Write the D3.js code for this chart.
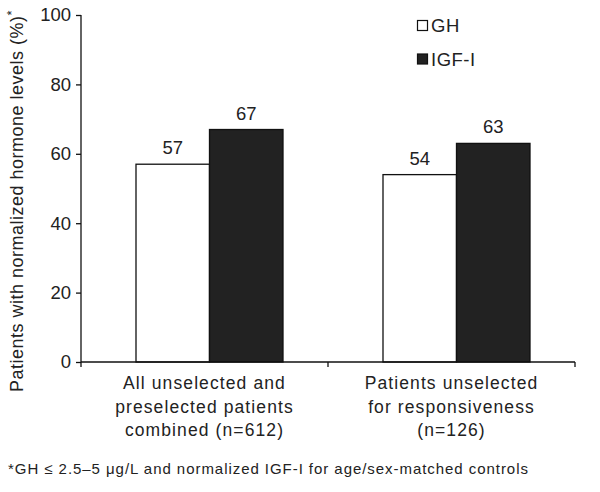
<!DOCTYPE html>
<html><head><meta charset="utf-8">
<script src="https://cdn.jsdelivr.net/npm/d3@7"></script>
<style>body{margin:0;background:#fff}svg{display:block;font-family:"Liberation Sans",Arial,sans-serif}</style>
</head><body><svg id="c" width="600" height="492"></svg>
<script>
const categories = [["All unselected and","preselected patients","combined (n=612)"],["Patients unselected","for responsiveness","(n=126)"]];
const series = ["GH","IGF-I"];
const ghValues = [57, 54];
const igfValues = [67, 63];
const yTicks = [0,20,40,60,80,100];
const colors = {"GH":"#ffffff","IGF-I":"#222222"};

const svg = d3.select("#c");
const x0 = d3.scaleBand().domain([0,1]).range([81,575]).padding(0);
const x1 = d3.scaleBand().domain(series).range([55,202]).padding(0);
const y = d3.scaleLinear().domain([0,100]).range([362,15]);

const data = categories.map((c,i)=>({i, vals:[{s:"GH",v:ghValues[i]},{s:"IGF-I",v:igfValues[i]}]}));

// bars
const g = svg.selectAll("g.cat").data(data).enter().append("g").attr("class","cat")
  .attr("transform",d=>`translate(${x0(d.i)},0)`);
g.selectAll("rect").data(d=>d.vals).enter().append("rect")
  .attr("x",d=>x1(d.s)).attr("width",x1.bandwidth())
  .attr("y",d=>y(d.v)).attr("height",d=>y(0)-y(d.v))
  .attr("fill",d=>colors[d.s]).attr("stroke","#111").attr("stroke-width",1.3);
g.selectAll("text.val").data(d=>d.vals).enter().append("text").attr("class","val")
  .attr("x",d=>x1(d.s)+x1.bandwidth()/2).attr("y",d=>y(d.v)-10)
  .attr("text-anchor","middle").attr("font-size",18.5).attr("fill","#222").text(d=>d.v);

// y axis
const ya = svg.append("g").attr("transform","translate(81,0)")
  .call(d3.axisLeft(y).tickValues(yTicks).tickSize(5).tickPadding(5));
ya.selectAll("text").attr("font-size",18.5).attr("fill","#222").attr("font-family","Liberation Sans, Arial, sans-serif");
ya.selectAll("line,path").attr("stroke","#111").attr("stroke-width",1.3);
ya.select("path").attr("d","M0,362V15");

// x axis
const xa = svg.append("g").attr("transform","translate(0,362)");
xa.append("line").attr("x1",81).attr("x2",575).attr("stroke","#111").attr("stroke-width",1.3);
[0,1,2].forEach(k=>{
  const xx = k<2 ? x0(k) : x0(1)+x0.bandwidth();
  xa.append("line").attr("x1",xx).attr("x2",xx).attr("y1",0).attr("y2",5).attr("stroke","#111").attr("stroke-width",1.3);
});
categories.forEach((lines,i)=>{
  const t = svg.append("text").attr("text-anchor","middle").attr("font-size",17.5).attr("letter-spacing",1.1).attr("fill","#222");
  lines.forEach((l,j)=>t.append("tspan").attr("x",x0(i)+x0.bandwidth()/2).attr("y",389+j*23.5).text(l));
});

// y title
svg.append("text").attr("transform","translate(23,201) rotate(-90)").attr("text-anchor","middle")
  .attr("font-size",18).attr("letter-spacing",0.5).attr("fill","#222")
  .text("Patients with normalized hormone levels (%)").append("tspan").attr("dy",-7).attr("font-size",13).text("*");

// legend
const leg = svg.append("g");
series.forEach((s,i)=>{
  leg.append("rect").attr("x",417.5).attr("y",20.5+i*33.5).attr("width",10).attr("height",10)
    .attr("fill",colors[s]).attr("stroke","#111").attr("stroke-width",1.2);
  leg.append("text").attr("x",431).attr("y",32+i*33.5).attr("font-size",18.5).attr("letter-spacing",0.5).attr("fill","#222").text(s);
});

// footnote
svg.append("text").attr("x",8).attr("y",474).attr("font-size",15).attr("letter-spacing",0.95).attr("fill","#222")
  .text("*GH \u2264 2.5\u20135 \u03bcg/L and normalized IGF-I for age/sex-matched controls");
</script></body></html>
